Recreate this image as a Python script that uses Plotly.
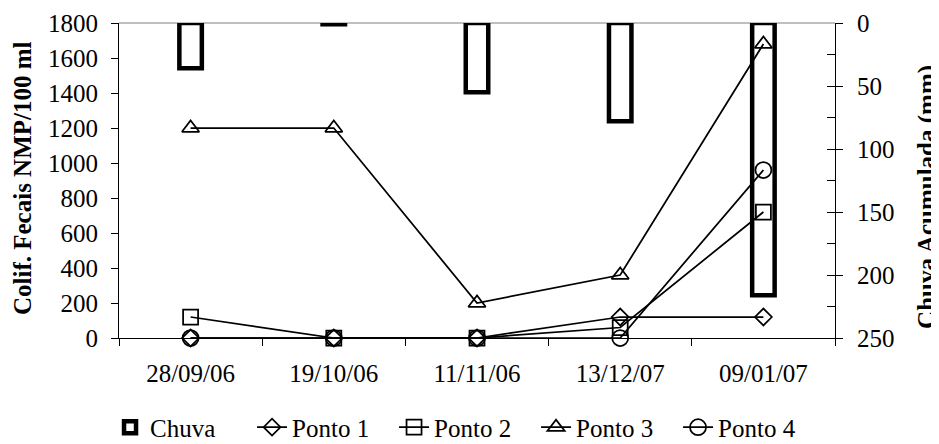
import plotly.graph_objects as go

categories = ["28/09/06", "19/10/06", "11/11/06", "13/12/07", "09/01/07"]
chuva = [36, 1, 55, 78, 216]
ponto1 = [0, 0, 0, 120, 120]
ponto2 = [120, 0, 0, 60, 720]
ponto3 = [1200, 1200, 200, 360, 1680]
ponto4 = [0, 0, 0, 0, 960]

FONT = "Liberation Serif, Times New Roman, serif"
FS = 25

# The page body has an 8px margin, so the figure is sized/offset to compensate.
W, H = 931, 436

fig = go.Figure()

fig.add_trace(go.Bar(
    x=categories, y=chuva, name="Chuva", xaxis="x", yaxis="y",
    width=0.157, marker=dict(color="white", line=dict(color="black", width=4.5)),
))

series = [
    ("Ponto 1", ponto1, "diamond-open", 13),
    ("Ponto 2", ponto2, "square-open", 15),
    ("Ponto 3", ponto3, "triangle-up-open", 15),
    ("Ponto 4", ponto4, "circle-open", 16),
]
for name, vals, sym, sz in series:
    fig.add_trace(go.Scatter(
        x=categories, y=vals, name=name, xaxis="x", yaxis="y2",
        mode="lines+markers", cliponaxis=False,
        line=dict(color="black", width=1.75),
        marker=dict(symbol=sym, size=sz, color="black",
                    line=dict(color="black", width=1.75)),
    ))

# invisible trace for inner tick axis
fig.add_trace(go.Scatter(x=[categories[0]], y=[0], xaxis="x", yaxis="y3",
                         mode="markers", marker=dict(opacity=0), showlegend=False,
                         hoverinfo="skip"))

fig.update_layout(
    width=W, height=H, autosize=False,
    margin=dict(l=111, r=104, t=15, b=106, autoexpand=False),
    paper_bgcolor="white", plot_bgcolor="white",
    font=dict(family=FONT, size=FS, color="black"),
    showlegend=True,
    barmode="overlay",
    xaxis=dict(
        type="category", range=[-0.5, 4.5], automargin=False,
        showline=True, linecolor="black", linewidth=1,
        ticks="outside", ticklen=7, tickcolor="black", tickson="boundaries",
        showgrid=False, zeroline=False,
        tickfont=dict(family=FONT, size=FS), ticklabelstandoff=13,
    ),
    yaxis=dict(
        side="right", range=[250, 0], dtick=50, tick0=0, automargin=False,
        showline=True, linecolor="black", linewidth=1,
        ticks="outside", ticklen=7, tickcolor="black",
        showgrid=False, zeroline=False,
        tickfont=dict(family=FONT, size=FS), ticklabelstandoff=9,
    ),
    yaxis2=dict(
        side="left", overlaying="y", range=[0, 1800], dtick=200, tick0=0, automargin=False,
        showline=True, linecolor="black", linewidth=1,
        ticks="outside", ticklen=7, tickcolor="black",
        showgrid=False, zeroline=False,
        tickfont=dict(family=FONT, size=FS), ticklabelstandoff=8,
    ),
    yaxis3=dict(
        side="right", overlaying="y", range=[250, 0], dtick=25, tick0=0, automargin=False,
        showline=False, ticks="inside", ticklen=8, tickcolor="black",
        showticklabels=False, showgrid=False, zeroline=False,
    ),
    legend=dict(
        orientation="h", xref="container", yref="container",
        x=0.1096, xanchor="left", y=0.038, yanchor="middle",
        font=dict(family=FONT, size=FS), bgcolor="rgba(0,0,0,0)",
        entrywidth=97, entrywidthmode="pixels", traceorder="normal",
        itemwidth=30, tracegroupgap=0,
    ),
    shapes=[dict(type="line", xref="paper", yref="paper", x0=0, x1=1, y0=1, y1=1,
                 line=dict(color="#808080", width=1), layer="below")],
    annotations=[
        dict(text="<b>Colif. Fecais NMP/100 ml</b>", xref="paper", yref="paper",
             x=-0.134, y=0.508, xanchor="center", yanchor="middle", textangle=-90,
             showarrow=False, font=dict(family=FONT, size=FS)),
        dict(text="<b>Chuva Acumulada (mm)</b>", xref="paper", yref="paper",
             x=1.1285, y=0.448, xanchor="center", yanchor="middle", textangle=-90,
             showarrow=False, font=dict(family=FONT, size=FS)),
    ],
)

fig.write_html("out.html")
